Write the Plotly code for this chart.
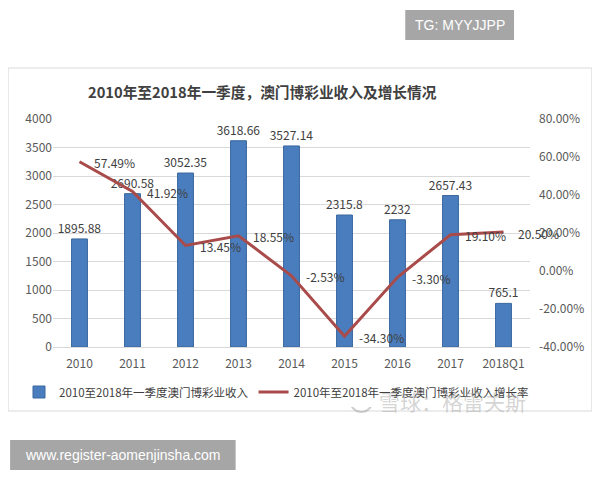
import plotly.graph_objects as go

categories = ["2010", "2011", "2012", "2013", "2014", "2015", "2016", "2017", "2018Q1"]
revenue = [1895.88, 2690.58, 3052.35, 3618.66, 3527.14, 2315.8, 2232, 2657.43, 765.1]
growth = [57.49, 41.92, 13.45, 18.55, -2.53, -34.30, -3.30, 19.10, 20.50]
revenue_labels = ["1895.88", "2690.58", "3052.35", "3618.66", "3527.14", "2315.8", "2232", "2657.43", "765.1"]
growth_labels = ["57.49%", "41.92%", "13.45%", "18.55%", "-2.53%", "-34.30%", "-3.30%", "19.10%", "20.50%"]
left_ticks = [0, 500, 1000, 1500, 2000, 2500, 3000, 3500, 4000]
right_ticks = [-40, -20, 0, 20, 40, 60, 80]
right_tick_labels = ["-40.00%", "-20.00%", "0.00%", "20.00%", "40.00%", "60.00%", "80.00%"]

FONT = "Noto Sans CJK SC"
OFF = 8  # page body margin
FW, FH = 600 - OFF, 480 - OFF
L, R, T, B = 52, 530, 119, 347  # plot area in window pixels
W, H = R - L, B - T


def px(x):
    return (x - L) / W


def py(y):
    return (B - y) / H


fig = go.Figure()
fig.add_trace(go.Bar(
    x=categories, y=revenue, name="2010至2018年一季度澳门博彩业收入",
    marker=dict(color="#4a7dbd", line=dict(color="#3a689f", width=1)),
    text=revenue_labels, textposition="outside", cliponaxis=False, constraintext="none",
    textfont=dict(size=12, color="#404040", family=FONT),
))
fig.add_trace(go.Scatter(
    x=categories, y=growth, name="2010年至2018年一季度澳门博彩业收入增长率",
    yaxis="y2", mode="lines",
    line=dict(color="#a94b4a", width=3),
))

annotations = [
    dict(text="<b>2010年至2018年一季度，澳门博彩业收入及增长情况</b>", xref="paper", yref="paper",
         x=px(262), y=py(91), showarrow=False, xanchor="center", yanchor="middle",
         font=dict(size=14.7, color="#404040", family=FONT)),
    dict(text="TG: MYYJJPP", xref="paper", yref="paper", x=px(459.5), y=py(25.5),
         showarrow=False, xanchor="center", yanchor="middle",
         font=dict(size=14, color="white", family="Liberation Sans")),
    dict(text="www.register-aomenjinsha.com", xref="paper", yref="paper", x=px(122), y=py(455),
         showarrow=False, xanchor="center", yanchor="middle",
         font=dict(size=14, color="white", family="Liberation Sans")),
    dict(text="雪球：格雷夫斯", xref="paper", yref="paper", x=px(452), y=py(401),
         showarrow=False, xanchor="center", yanchor="middle",
         font=dict(size=21, color="rgba(160,160,160,0.45)", family=FONT)),
]
for i, (g, lab) in enumerate(zip(growth, growth_labels)):
    annotations.append(dict(text=lab, x=i, y=g, xref="x", yref="y2", showarrow=False,
                            xanchor="left", yanchor="middle", xshift=12, yshift=-1,
                            font=dict(size=12, color="#404040", family=FONT)))

fig.update_layout(
    width=FW, height=FH,
    margin=dict(l=L - OFF, r=FW - (R - OFF), t=T - OFF, b=FH - (B - OFF)),
    paper_bgcolor="white", plot_bgcolor="white",
    font=dict(family=FONT, size=12, color="#595959"),
    bargap=0.7,
    showlegend=True,
    legend=dict(orientation="h", x=px(19), y=py(392), yanchor="middle", xanchor="left",
                font=dict(size=11.5, color="#404040"), traceorder="normal"),
    xaxis=dict(type="category", showline=True, linecolor="#d9d9d9", ticks="",
               range=[-0.5, len(categories) - 0.5],
               ticklabelstandoff=6, tickfont=dict(size=12, color="#595959")),
    yaxis=dict(range=[0, 4000], tickvals=left_ticks, gridcolor="#d9d9d9",
               zeroline=False, showline=False, tickfont=dict(size=12, color="#595959")),
    yaxis2=dict(range=[-40, 80], tickvals=right_ticks, ticktext=right_tick_labels,
                overlaying="y", side="right", showgrid=False, zeroline=False,
                ticklabelstandoff=8, tickfont=dict(size=12, color="#595959")),
    shapes=[
        dict(type="rect", xref="paper", yref="paper", x0=px(7), x1=px(592), y0=py(411), y1=py(68),
             line=dict(color="#d9d9d9", width=1), fillcolor="rgba(0,0,0,0)", layer="below"),
        dict(type="rect", xref="paper", yref="paper", x0=px(405), x1=px(514), y0=py(40), y1=py(10),
             line=dict(width=0), fillcolor="#a6a6a6"),
        dict(type="rect", xref="paper", yref="paper", x0=px(9), x1=px(235), y0=py(470), y1=py(440),
             line=dict(width=0), fillcolor="#a6a6a6"),
        dict(type="circle", xref="paper", yref="paper", x0=px(350), x1=px(372), y0=py(412), y1=py(390),
             line=dict(color="rgba(160,160,160,0.5)", width=2), fillcolor="rgba(0,0,0,0)"),
    ],
    annotations=annotations,
)

fig.write_html("out.html")
